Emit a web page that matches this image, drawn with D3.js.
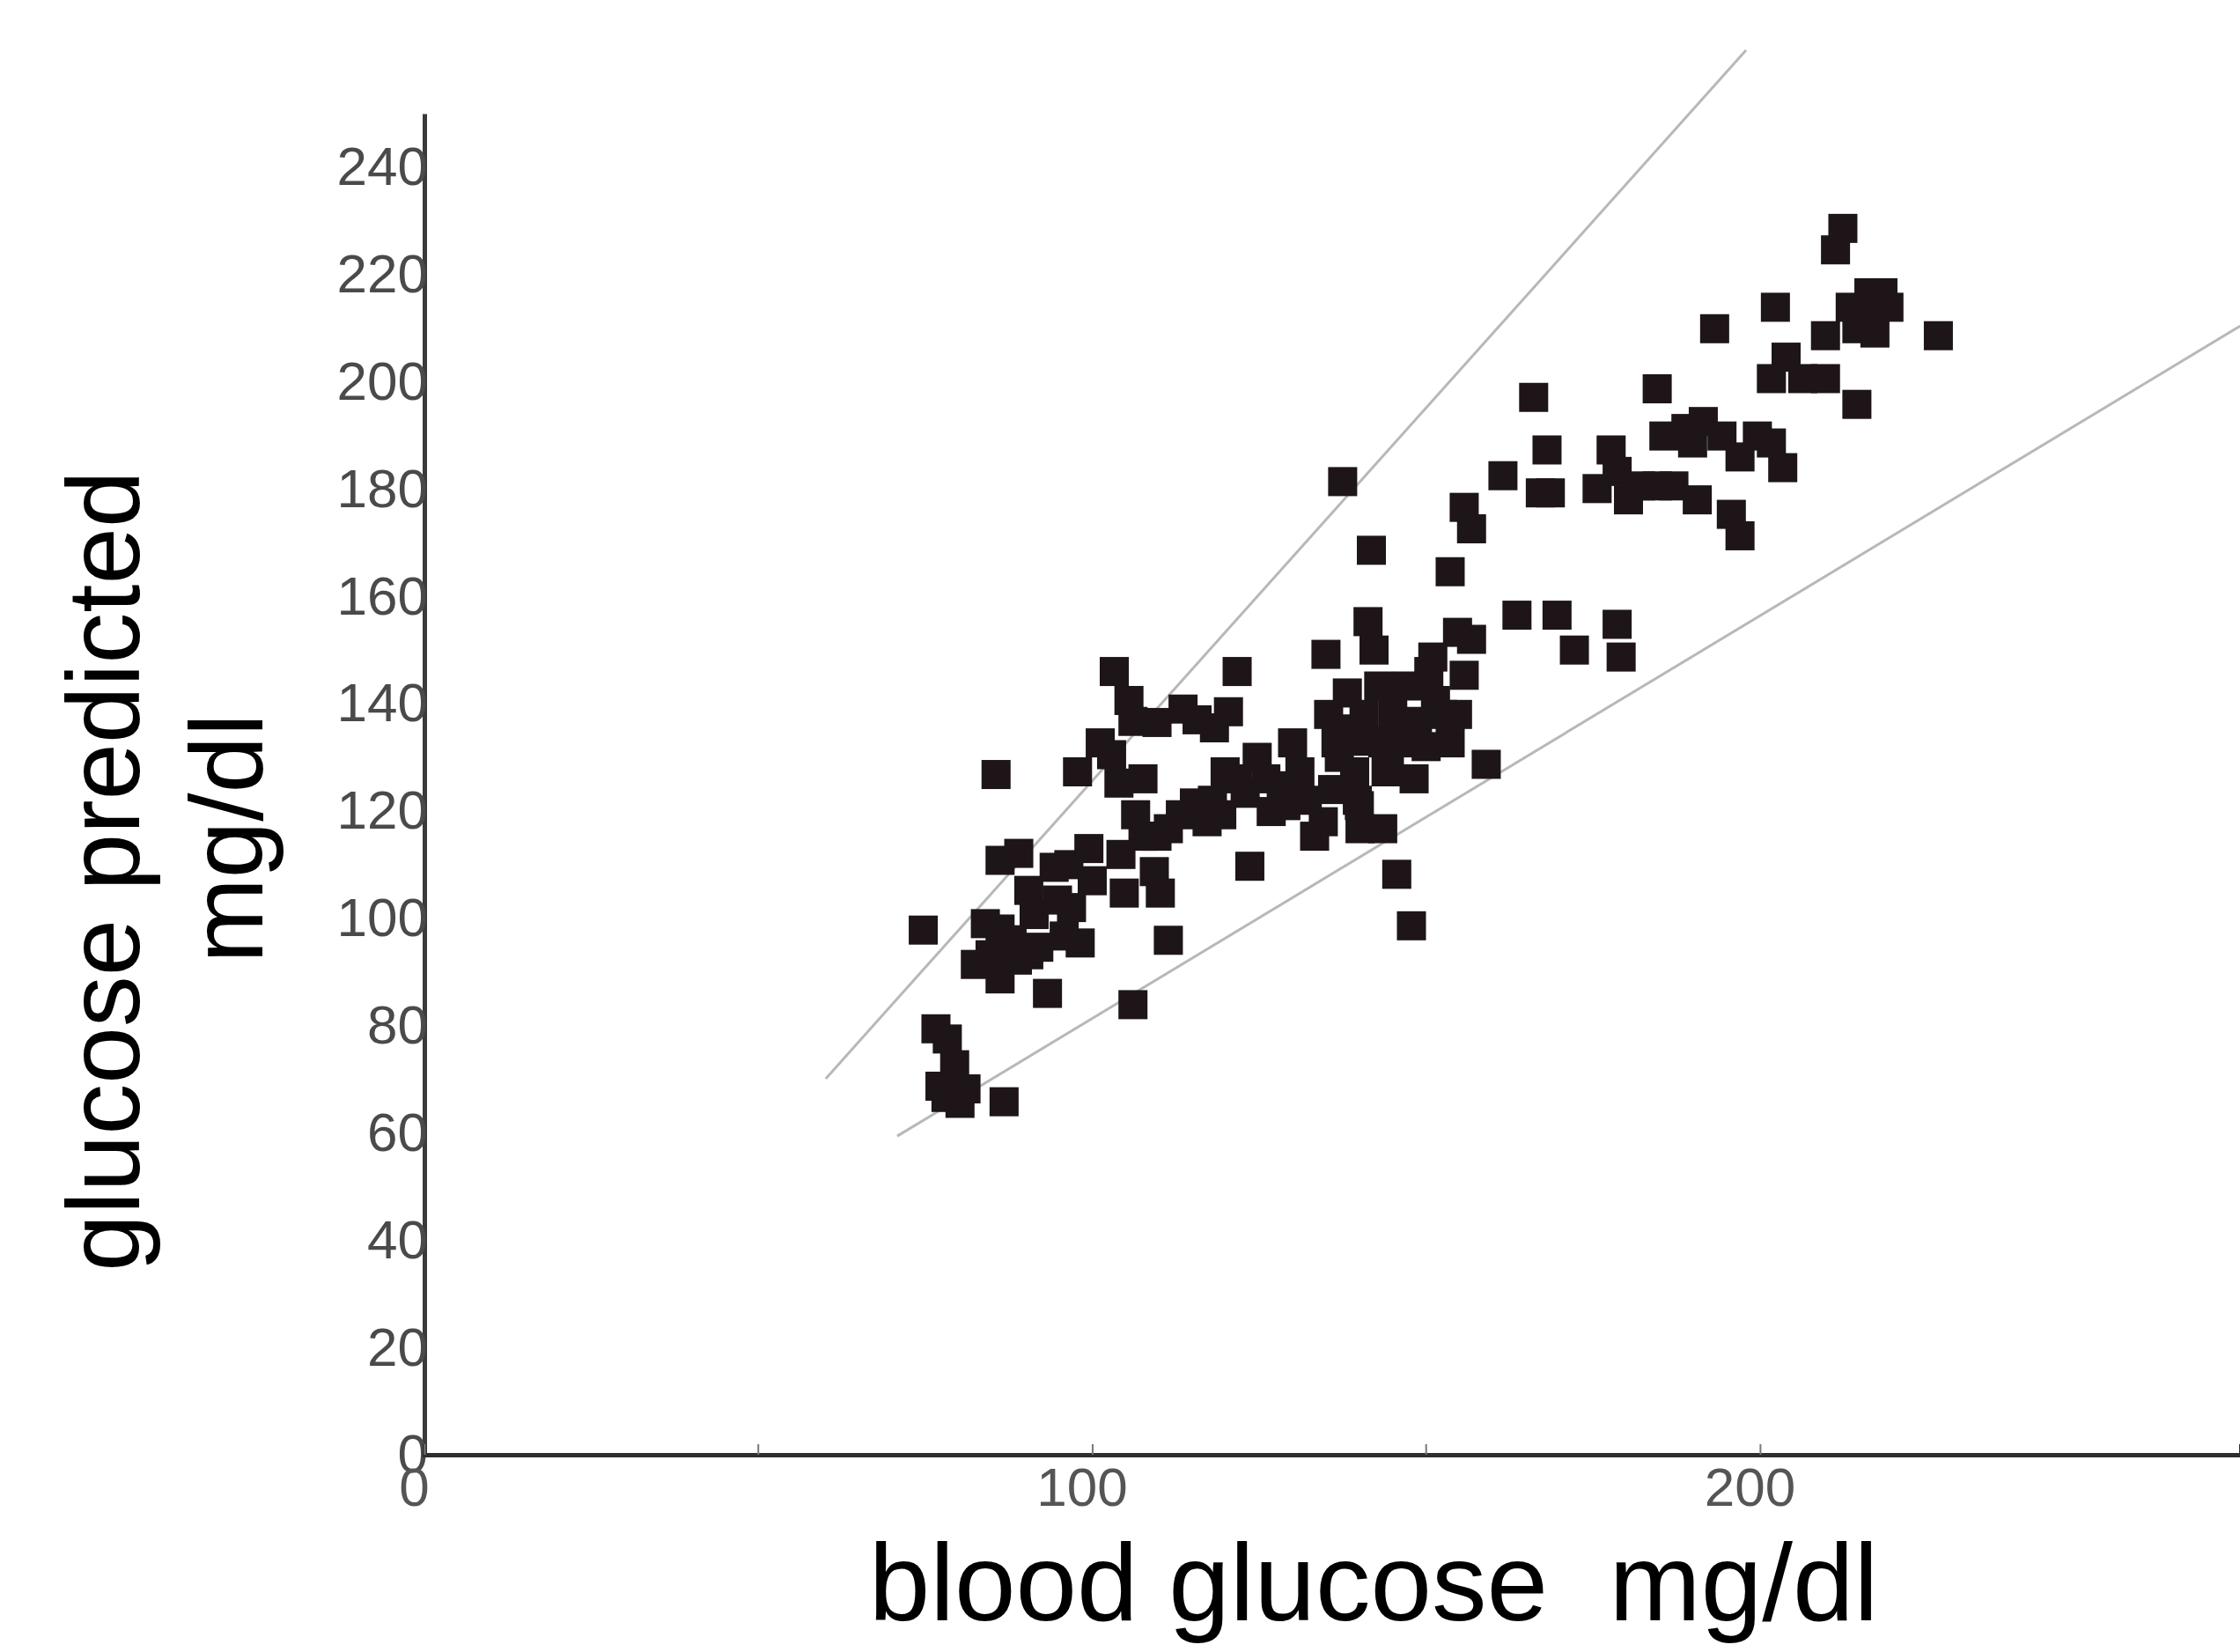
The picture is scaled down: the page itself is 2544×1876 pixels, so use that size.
<!DOCTYPE html>
<html>
<head>
<meta charset="utf-8">
<script src="https://cdn.jsdelivr.net/npm/d3@7"></script>
<style>
  body { margin: 0; background: #fff; }
  text { font-family: "Liberation Sans", Arial, sans-serif; }
</style>
</head>
<body>
<svg></svg>
<script>
// blood glucose (x) vs predicted glucose (y), mg/dl
var bloodGlucose = [74.7, 76.6, 78.3, 79.4, 77.2, 78.1, 80.2, 81.1, 86.8, 85.6,
  86.2, 89.0, 90.5, 86.2, 84.7, 82.5, 86.2, 88.8, 90.5, 93.3,
  92.0, 91.3, 94.3, 96.5, 94.8, 96.9, 98.2, 95.8, 97.8, 101.2,
  103.3, 105.5, 102.9, 106.1, 104.0, 107.6, 106.5, 107.6, 104.3, 104.8,
  109.3, 110.2, 109.7, 111.4, 111.4, 106.1, 109.7, 113.6, 115.7, 118.3,
  120.4, 121.7, 113.2, 115.3, 117.2, 119.4, 119.9, 121.7, 122.9, 123.6,
  124.7, 126.0, 126.8, 128.3, 130.0, 131.1, 132.2, 133.3, 134.6, 135.0,
  135.4, 136.5, 137.5, 138.2, 138.6, 139.3, 139.7, 140.1, 140.7, 141.3,
  141.8, 142.2, 142.9, 143.5, 144.0, 143.5, 145.0, 145.6, 147.2, 147.8,
  148.2, 148.7, 147.2, 150.4, 151.4, 151.0, 153.6, 154.7, 155.7, 156.8,
  154.7, 153.6, 155.7, 156.8, 159.0, 161.5, 163.6, 166.1, 168.1, 167.1,
  169.6, 172.2, 168.6, 175.6, 177.7, 178.6, 179.2, 178.6, 180.3, 182.1,
  184.6, 184.6, 187.1, 185.6, 188.9, 190.6, 189.9, 191.5, 193.2, 194.3,
  195.7, 197.0, 197.0, 199.6, 201.7, 202.3, 203.4, 203.9, 201.7, 206.4,
  209.8, 209.8, 211.3, 212.4, 214.5, 213.5, 214.5, 216.7, 218.4, 216.3,
  219.3, 217.2, 226.7, 137.0, 141.0, 144.5, 146.0, 150.0, 152.5, 136.0,
  140.0, 129.0, 118.0, 100.0, 99.5, 88.0, 84.0];
var predicted = [97.8, 79.4, 77.5, 72.7, 68.7, 66.6, 65.5, 68.2, 65.8, 126.8,
  110.8, 112.1, 105.2, 98.0, 93.2, 91.4, 88.7, 92.2, 93.2, 86.0,
  94.6, 100.7, 109.5, 110.0, 103.4, 102.0, 95.4, 96.7, 127.3, 132.7,
  146.0, 140.6, 130.5, 136.7, 125.2, 126.0, 119.3, 115.3, 111.9, 104.7,
  108.7, 104.7, 115.3, 116.7, 95.9, 83.9, 136.5, 139.0, 137.0, 135.5,
  138.5, 146.0, 119.3, 121.5, 118.0, 119.3, 127.3, 126.0, 123.3, 109.7,
  130.0, 126.0, 119.9, 124.7, 132.7, 127.3, 122.0, 115.3, 118.0, 149.2,
  138.0, 132.7, 181.4, 142.0, 135.3, 127.3, 122.0, 116.7, 138.0, 155.3,
  168.6, 150.0, 143.3, 132.7, 127.3, 116.7, 138.0, 108.2, 132.7, 98.6,
  126.0, 136.7, 143.3, 146.0, 140.6, 148.7, 164.6, 153.3, 176.6, 172.6,
  138.0, 132.7, 145.3, 152.0, 128.7, 182.5, 156.5, 197.1, 187.3, 179.3,
  156.5, 150.0, 179.3, 180.1, 187.3, 154.8, 148.7, 183.3, 178.0, 180.6,
  198.7, 180.6, 180.6, 189.9, 191.3, 178.0, 188.6, 192.6, 209.9, 189.9,
  175.3, 171.3, 186.0, 189.9, 188.6, 213.9, 184.0, 204.6, 200.6, 200.6,
  200.6, 208.6, 224.6, 228.6, 195.8, 213.9, 209.9, 211.3, 216.6, 216.6,
  213.9, 209.1, 208.6, 130.0, 133.0, 129.0, 135.0, 132.0, 138.0, 124.0,
  121.0, 121.0, 122.0, 107.0, 113.0, 96.0, 99.0];

// the two limit lines drawn on the chart
var upperLine = [[60.1, 70.1], [197.9, 261.8]];
var lowerLine = [[70.8, 59.4], [271.9, 210.4]];

var yTicks = d3.range(0, 241, 20);
var xTicks = [0, 100, 200];
var xMinorTicks = [50, 150];

var svgWidth = 2544, svgHeight = 1876;

var svg = d3.select('svg')
    .attr("width", svgWidth)
    .attr("height", svgHeight);

var xScale = d3.scaleLinear()
    .domain([0, 272])
    .range([482, 2545]);

var yScale = d3.scaleLinear()
    .domain([0, 250])
    .range([1652, 129]);

var line = d3.line()
    .x(d => xScale(d[0]))
    .y(d => yScale(d[1]));

// limit lines
svg.selectAll("path.limit")
  .data([upperLine, lowerLine])
  .enter()
  .append("path")
  .attr("class", "limit")
  .attr("d", line)
  .attr("fill", "none")
  .attr("stroke", "#b8b8b8")
  .attr("stroke-width", 3);

// points
var points = bloodGlucose.map((x, i) => [x, predicted[i]]);
var size = 33;

svg.selectAll("rect.pt")
  .data(points)
  .enter()
  .append("rect")
  .attr("class", "pt")
  .attr("x", d => xScale(d[0]) - size / 2)
  .attr("y", d => yScale(d[1]) - size / 2)
  .attr("width", size)
  .attr("height", size)
  .attr("fill", "#1d1517");

// y axis
var yAxis = svg.append("g")
  .attr("transform", "translate(" + xScale(0) + ",0)")
  .call(d3.axisLeft(yScale).tickValues(yTicks).tickSize(0).tickPadding(-4));

yAxis.select(".domain")
  .attr("stroke", "#3a3a3a")
  .attr("stroke-width", 5);

yAxis.selectAll("text")
  .attr("font-size", 62)
  .attr("font-family", "'Liberation Sans', Arial, sans-serif")
  .attr("fill", "#4a4a4a");

// x axis
var xAxis = svg.append("g")
  .attr("transform", "translate(0," + yScale(0) + ")")
  .call(d3.axisBottom(xScale).tickValues(xTicks).tickSize(-12).tickPadding(0));

xAxis.select(".domain")
  .attr("stroke", "#2e2e2e")
  .attr("stroke-width", 5);

xAxis.selectAll(".tick line")
  .attr("stroke", "#777")
  .attr("stroke-width", 2);

xAxis.selectAll("text")
  .attr("font-size", 62)
  .attr("font-family", "'Liberation Sans', Arial, sans-serif")
  .attr("fill", "#555")
  .attr("dx", -12)
  .attr("dy", 0)
  .attr("y", 58);

svg.selectAll("line.minor")
  .data(xMinorTicks)
  .enter()
  .append("line")
  .attr("class", "minor")
  .attr("x1", d => xScale(d))
  .attr("x2", d => xScale(d))
  .attr("y1", yScale(0))
  .attr("y2", yScale(0) - 12)
  .attr("stroke", "#777")
  .attr("stroke-width", 2);

// axis titles
svg.append("text")
  .attr("x", 1560)
  .attr("y", 1840)
  .attr("text-anchor", "middle")
  .attr("font-size", 125)
  .attr("fill", "#000")
  .style("white-space", "pre")
  .text("blood glucose  mg/dl");

svg.append("text")
  .attr("transform", "translate(158,989) rotate(-90)")
  .attr("text-anchor", "middle")
  .attr("font-size", 116)
  .attr("fill", "#000")
  .text("glucose predicted");

svg.append("text")
  .attr("transform", "translate(298,952) rotate(-90)")
  .attr("text-anchor", "middle")
  .attr("font-size", 116)
  .attr("fill", "#000")
  .text("mg/dl");
</script>
</body>
</html>
